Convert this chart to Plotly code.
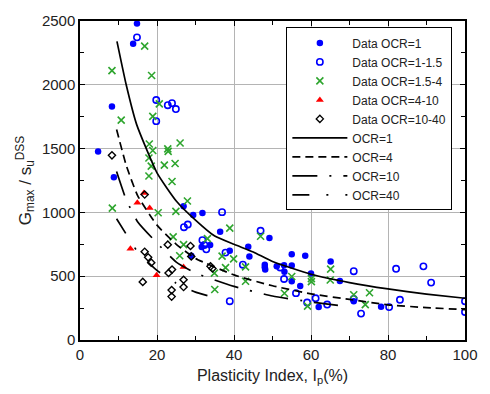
import plotly.graph_objects as go

# ---- data ----
ocr1_x = [14.8, 13.8, 8.3, 4.7, 8.8, 26.9, 29.4, 31.8, 36.4, 31.6, 33.8, 38.9, 28.9, 43.7, 44.0,
          48.0, 48.0, 48.1, 49.2, 51.1, 53.0, 53.1, 55.0, 55.0, 58.5, 60.0, 57.2, 65.1, 67.5,
          71.1, 62.0, 78.2, 55.0]
ocr1_y = [2480, 2321, 1830, 1478, 1275, 1048, 979, 996, 848, 728, 744, 700, 661, 731, 654,
          590, 570, 552, 800, 577, 585, 535, 672, 583, 660, 521, 424, 616, 462,
          304, 258, 261, 460]

ocr115_x = [14.8, 19.8, 22.8, 23.9, 24.9, 19.8, 27.0, 28.0, 36.9, 31.8, 32.8, 37.8, 38.9, 42.3,
            46.9, 52.0, 53.0, 56.1, 59.0, 61.2, 64.2, 71.1, 71.1, 73.0, 80.3, 82.1, 83.1,
            89.2, 91.2, 100.0, 100.0, 32.3]
ocr115_y = [2372, 1881, 1840, 1856, 1810, 1715, 884, 905, 1002, 782, 711, 685, 304, 590,
            856, 568, 478, 367, 294, 327, 278, 539, 322, 207, 258, 558, 315,
            577, 450, 304, 220, 745]

ocr154_x = [16.8, 8.3, 18.6, 20.6, 10.7, 18.9, 18.0, 18.9, 22.8, 22.9, 26.0, 17.9, 18.5, 21.9,
            24.7, 17.9, 23.9, 8.4, 20.3, 24.9, 27.9, 24.2, 26.9, 33.1, 38.9, 25.9, 36.9, 39.9,
            37.8, 34.9, 35.0, 43.0, 43.0, 46.9, 55.0, 53.1, 60.1, 60.1, 59.1, 65.1, 65.0,
            71.1, 75.2, 74.1]
ocr154_y = [2303, 2111, 2073, 1850, 1723, 1753, 1536, 1485, 1498, 1478, 1544, 1426, 1363, 1370,
            1383, 1285, 1242, 1033, 997, 1008, 1089, 808, 748, 795, 877, 660, 657, 636,
            567, 524, 396, 573, 460, 813, 498, 366, 481, 458, 265, 555, 470,
            355, 370, 277]

ocr410_x = [16.6, 14.9, 18.1, 13.1, 19.9, 26.9]
ocr410_y = [1153, 1076, 1035, 716, 507, 573]

ocr1040_x = [8.3, 16.8, 16.8, 17.7, 18.5, 16.3, 22.8, 28.7, 28.9, 23.0, 23.9, 26.9, 26.9,
             23.8, 23.8, 33.9, 34.4]
ocr1040_y = [1447, 1140, 692, 648, 606, 455, 747, 737, 655, 525, 552, 472, 415,
             391, 340, 577, 560]

# model curves
c1_x = [9.6, 12, 14.7, 20, 25, 30, 35, 40, 45, 50, 60, 70, 80, 90, 100]
c1_y = [2340, 2000, 1690, 1310, 1090, 940, 815, 750, 690, 615, 515, 450, 400, 360, 327]
c4_x = [9.5, 12, 15, 20, 25, 30, 40, 50, 60, 70, 80, 90, 100]
c4_y = [1650, 1370, 1130, 900, 750, 640, 510, 425, 362, 318, 276, 254, 238]
c10_x = [9.5, 12, 15, 20, 25, 30, 40, 50, 60, 67]
c10_y = [1320, 1100, 925, 760, 610, 525, 420, 345, 298, 272]
c40_x = [9.5, 12, 15, 20, 25, 30, 34]
c40_y = [950, 830, 690, 545, 445, 375, 340]

x_ticks = [0, 20, 40, 60, 80, 100]
y_ticks = [0, 500, 1000, 1500, 2000, 2500]

FONT = "Liberation Sans, Arial, sans-serif"
BLUE = "#0000FF"
GREEN = "#2EA52E"

fig = go.Figure()
fig.add_trace(go.Scatter(x=ocr1_x, y=ocr1_y, mode="markers", name="Data OCR=1",
                         marker=dict(symbol="circle", size=6.5, color=BLUE)))
fig.add_trace(go.Scatter(x=ocr115_x, y=ocr115_y, mode="markers", name="Data OCR=1-1.5",
                         marker=dict(symbol="circle-open", size=6.3, color=BLUE, line=dict(width=1.6))))
fig.add_trace(go.Scatter(x=ocr154_x, y=ocr154_y, mode="markers", name="Data OCR=1.5-4",
                         marker=dict(symbol="x-thin-open", size=7, color=GREEN, line=dict(width=1.6, color=GREEN))))
fig.add_trace(go.Scatter(x=ocr410_x, y=ocr410_y, mode="markers", name="Data OCR=4-10",
                         marker=dict(symbol="triangle-up", size=7, color="#FF0000")))
fig.add_trace(go.Scatter(x=ocr1040_x, y=ocr1040_y, mode="markers", name="Data OCR=10-40",
                         marker=dict(symbol="diamond-open", size=5.5, color="black", line=dict(width=1.4))))
fig.add_trace(go.Scatter(x=c1_x, y=c1_y, mode="lines", name="OCR=1",
                         line=dict(color="black", width=1.7, shape="spline", smoothing=0.5)))
fig.add_trace(go.Scatter(x=c4_x, y=c4_y, mode="lines", name="OCR=4",
                         line=dict(color="black", width=1.7, dash="8px,5px", shape="spline", smoothing=0.5)))
fig.add_trace(go.Scatter(x=c10_x, y=c10_y, mode="lines", name="OCR=10",
                         line=dict(color="black", width=1.7, dash="25px,12px,2px,12px", shape="spline", smoothing=0.5)))
fig.add_trace(go.Scatter(x=c40_x, y=c40_y, mode="lines", name="OCR=40",
                         line=dict(color="black", width=1.7, dash="17px,17px,2px,17px", shape="spline", smoothing=0.5)))

axis_common = dict(
    showline=True, linecolor="black", linewidth=1.5, mirror="ticks",
    ticks="inside", ticklen=5, tickcolor="black", tickwidth=1,
    showgrid=True, gridcolor="#B4B4B4", gridwidth=1, zeroline=False,
    tickfont=dict(family=FONT, size=15, color="#222"),
)

fig.update_xaxes(range=[0, 100], tickvals=x_ticks, ticktext=[str(v) for v in x_ticks],
                 minor=dict(ticks="inside", ticklen=4, dtick=10, tickcolor="black", showgrid=False),
                 title=dict(text="Plasticity Index, I<sub>p</sub>(%)", standoff=8,
                            font=dict(family=FONT, size=16, color="#222")),
                 **axis_common)
fig.update_yaxes(range=[0, 2500], tickvals=y_ticks, ticktext=[str(v) for v in y_ticks],
                 minor=dict(ticks="inside", ticklen=4, dtick=250, tickcolor="black", showgrid=False),
                 title=dict(text="G<sub>max</sub> / s<sub>u</sub><sup>DSS</sup>", standoff=6,
                            font=dict(family=FONT, size=17, color="#222")),
                 **axis_common)

fig.update_layout(
    width=490, height=394,
    margin=dict(l=80, r=22, t=16, b=52),
    paper_bgcolor="white", plot_bgcolor="white",
    font=dict(family=FONT, color="#222"),
    showlegend=True,
    legend=dict(x=0.536, y=0.98, xanchor="left", yanchor="top",
                bgcolor="white", bordercolor="black", borderwidth=1,
                font=dict(family=FONT, size=12, color="#222"),
                itemwidth=55, tracegroupgap=0),
)

fig.write_html("out.html")
